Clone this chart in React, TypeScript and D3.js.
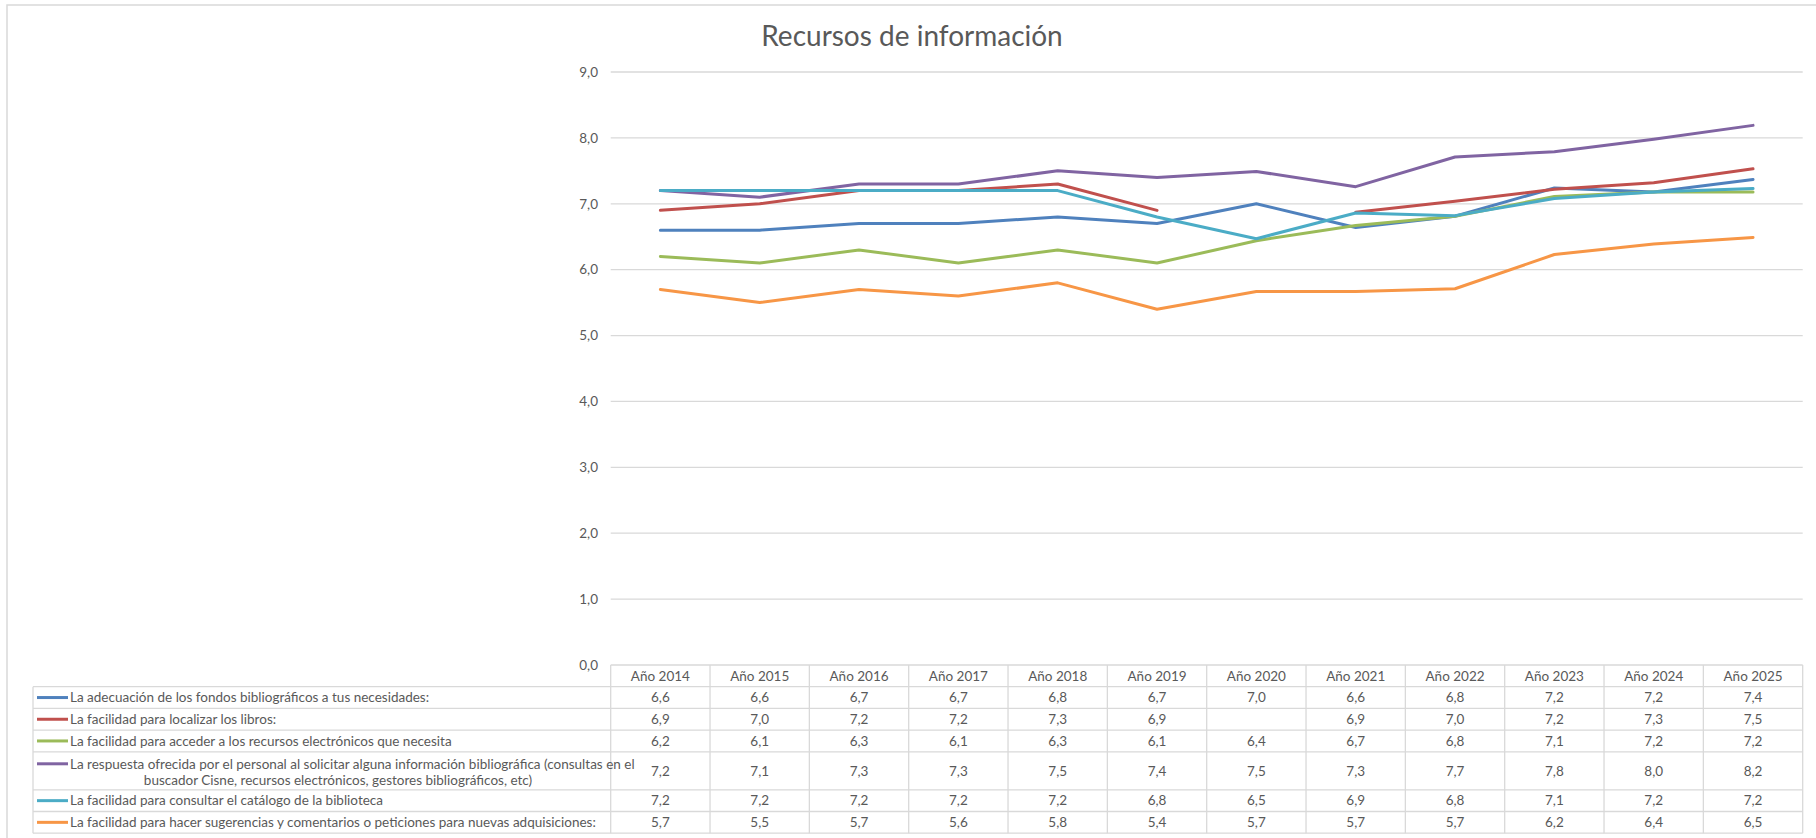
import * as d3 from "d3";
import { useEffect, useRef } from "react";

const years = [
  "Año 2014", "Año 2015", "Año 2016", "Año 2017", "Año 2018", "Año 2019",
  "Año 2020", "Año 2021", "Año 2022", "Año 2023", "Año 2024", "Año 2025",
];

// values; the table shows them rounded to one decimal
const adecuacion = [6.6, 6.6, 6.7, 6.7, 6.8, 6.7, 7.0, 6.64, 6.81, 7.24, 7.18, 7.37];
const localizar = [6.9, 7.0, 7.2, 7.2, 7.3, 6.9, null, 6.87, 7.04, 7.22, 7.32, 7.53];
const electronicos = [6.2, 6.1, 6.3, 6.1, 6.3, 6.1, 6.44, 6.67, 6.81, 7.11, 7.18, 7.18];
const respuesta = [7.2, 7.1, 7.3, 7.3, 7.5, 7.4, 7.49, 7.26, 7.71, 7.79, 7.98, 8.19];
const catalogo = [7.2, 7.2, 7.2, 7.2, 7.2, 6.8, 6.47, 6.86, 6.82, 7.08, 7.18, 7.23];
const sugerencias = [5.7, 5.5, 5.7, 5.6, 5.8, 5.4, 5.67, 5.67, 5.71, 6.23, 6.39, 6.49];

const seriesNames = [
  ["La adecuación de los fondos bibliográficos a tus necesidades:"],
  ["La facilidad para localizar los libros:"],
  ["La facilidad para acceder a los recursos electrónicos que necesita"],
  [
    "La respuesta ofrecida por el personal al solicitar alguna información bibliográfica (consultas en el",
    "buscador Cisne, recursos electrónicos, gestores bibliográficos, etc)",
  ],
  ["La facilidad para consultar el catálogo de la biblioteca"],
  ["La facilidad para hacer sugerencias y comentarios o peticiones para nuevas adquisiciones:"],
];
const seriesValues = [adecuacion, localizar, electronicos, respuesta, catalogo, sugerencias];
const seriesColors = ["#4f81bd", "#c0504d", "#9bbb59", "#8064a2", "#4bacc6", "#f79646"];

const yTicks = [0, 1, 2, 3, 4, 5, 6, 7, 8, 9];

const width = 1816;
const height = 838;
const plot = { left: 610.7, right: 1802.7, top: 72, bottom: 665 };
const legendLeft = 33;
// header row, then one row per series (the 4th wraps onto two lines)
const rowHeights = [21.7, 21.7, 21.7, 21.7, 38, 21.7, 21.7];
const fontFamily = "Lato, 'Open Sans', sans-serif";
const textColor = "#595959";
const gridColor = "#d9d9d9";

const fmt = (v: number | null) => (v == null ? "" : v.toFixed(1).replace(".", ","));

export default function App() {
  const svgRef = useRef<SVGSVGElement>(null);

  useEffect(() => {
    if (!svgRef.current) return;
    const svg = d3.select(svgRef.current);
    svg.selectAll("*").remove();

    const x = d3.scaleBand<string>().domain(years).range([plot.left, plot.right]);
    const y = d3.scaleLinear().domain([0, 9]).range([plot.bottom, plot.top]);
    const cx = (d: string) => (x(d) ?? 0) + x.bandwidth() / 2;

    // chart border, runs off the right and bottom edges
    svg.append("rect")
      .attr("x", 7).attr("y", 5)
      .attr("width", width + 20).attr("height", height + 20)
      .attr("fill", "#fff")
      .attr("stroke", gridColor)
      .attr("stroke-width", 1.5);

    svg.append("text")
      .attr("x", 912)
      .attr("y", 46)
      .attr("text-anchor", "middle")
      .attr("font-family", fontFamily)
      .attr("font-size", 28)
      .attr("fill", textColor)
      .text("Recursos de información");

    svg.append("g")
      .selectAll("line")
      .data(yTicks.filter((t) => t > 0))
      .join("line")
      .attr("x1", plot.left).attr("x2", plot.right)
      .attr("y1", (d) => y(d)).attr("y2", (d) => y(d))
      .attr("stroke", gridColor)
      .attr("stroke-width", 1.3);

    svg.append("g")
      .selectAll("text")
      .data(yTicks)
      .join("text")
      .attr("x", 598)
      .attr("y", (d) => y(d))
      .attr("dy", "0.35em")
      .attr("text-anchor", "end")
      .attr("font-family", fontFamily)
      .attr("font-size", 13.5)
      .attr("fill", textColor)
      .text((d) => fmt(d));

    const line = d3.line<number | null>()
      .defined((d) => d != null)
      .x((_, i) => cx(years[i]))
      .y((d) => y(d as number));

    svg.append("g")
      .selectAll("path")
      .data(seriesValues)
      .join("path")
      .attr("fill", "none")
      .attr("stroke", (_, i) => seriesColors[i])
      .attr("stroke-width", 3)
      .attr("stroke-linejoin", "round")
      .attr("stroke-linecap", "round")
      .attr("d", (d) => line(d));

    // data table under the plot
    const tops: number[] = [];
    let acc = plot.bottom;
    rowHeights.forEach((h) => {
      tops.push(acc);
      acc += h;
    });
    const tableBottom = acc;

    const table = svg.append("g");
    table.append("line")
      .attr("x1", plot.left).attr("x2", plot.right)
      .attr("y1", plot.bottom).attr("y2", plot.bottom)
      .attr("stroke", gridColor).attr("stroke-width", 1.3);
    tops.slice(1).concat([tableBottom]).forEach((ty) => {
      table.append("line")
        .attr("x1", legendLeft).attr("x2", plot.right)
        .attr("y1", ty).attr("y2", ty)
        .attr("stroke", gridColor).attr("stroke-width", 1.3);
    });
    table.append("line")
      .attr("x1", legendLeft).attr("x2", legendLeft)
      .attr("y1", tops[1]).attr("y2", tableBottom)
      .attr("stroke", gridColor).attr("stroke-width", 1.3);
    d3.range(years.length + 1).forEach((k) => {
      const vx = plot.left + k * x.bandwidth();
      table.append("line")
        .attr("x1", vx).attr("x2", vx)
        .attr("y1", plot.bottom).attr("y2", tableBottom)
        .attr("stroke", gridColor).attr("stroke-width", 1.3);
    });

    const cellText = (g: d3.Selection<SVGGElement, unknown, null, undefined>) =>
      g.attr("font-family", fontFamily).attr("font-size", 13.5).attr("fill", textColor);

    table.append("g").call(cellText)
      .selectAll("text")
      .data(years)
      .join("text")
      .attr("x", (d) => cx(d))
      .attr("y", tops[0] + rowHeights[0] / 2)
      .attr("dy", "0.35em")
      .attr("text-anchor", "middle")
      .text((d) => d);

    seriesValues.forEach((vals, si) => {
      const top = tops[si + 1];
      const h = rowHeights[si + 1];
      const names = seriesNames[si];
      const firstY = names.length > 1 ? top + h / 2 - 7 : top + h / 2;
      const g = table.append("g").call(cellText);

      g.selectAll("text.v")
        .data(vals)
        .join("text")
        .attr("class", "v")
        .attr("x", (_, i) => cx(years[i]))
        .attr("y", top + h / 2)
        .attr("dy", "0.35em")
        .attr("text-anchor", "middle")
        .text((d) => fmt(d));

      g.append("line")
        .attr("x1", 37).attr("x2", 68)
        .attr("y1", firstY).attr("y2", firstY)
        .attr("stroke", seriesColors[si])
        .attr("stroke-width", 3);

      g.append("text")
        .attr("x", 70)
        .attr("y", firstY)
        .attr("dy", "0.35em")
        .text(names[0]);

      if (names.length > 1) {
        g.append("text")
          .attr("x", 338)
          .attr("y", firstY + 16)
          .attr("dy", "0.35em")
          .attr("text-anchor", "middle")
          .text(names[1]);
      }
    });
  }, []);

  return (
    <svg
      ref={svgRef}
      width={width}
      height={height}
      style={{ position: "absolute", left: 0, top: 0, background: "#fff" }}
    />
  );
}
